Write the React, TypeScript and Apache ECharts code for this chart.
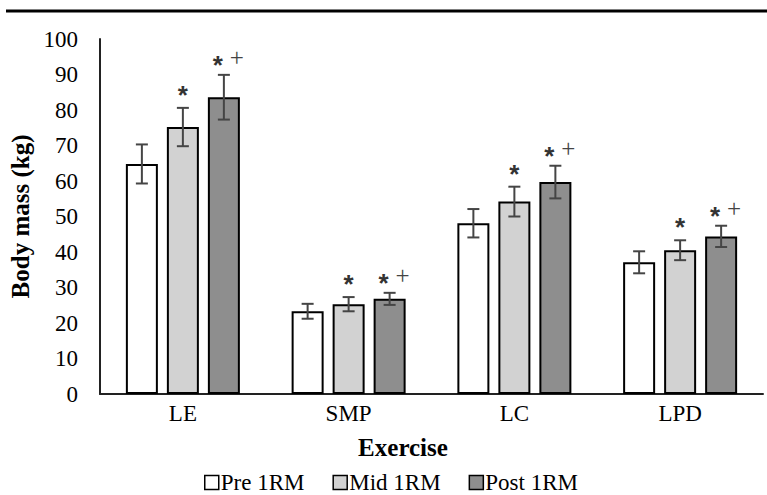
import React, { useEffect, useRef } from 'react';
import * as echarts from 'echarts';

const categories = ['LE', 'SMP', 'LC', 'LPD'];
const seriesNames = ['Pre 1RM', 'Mid 1RM', 'Post 1RM'];
const preValues = [64.8, 23.3, 48.1, 37.1];
const midValues = [75.2, 25.3, 54.2, 40.5];
const postValues = [83.6, 26.8, 59.7, 44.4];
const preErrors = [5.5, 2.1, 4.0, 3.1];
const midErrors = [5.4, 2.0, 4.2, 2.8];
const postErrors = [6.3, 1.7, 4.6, 3.0];
const preMarks = ['', '', '', ''];
const midMarks = ['*', '*', '*', '*'];
const postMarks = ['*+', '*+', '*+', '*+'];
const yMin = 0;
const yMax = 100;
const yInterval = 10;

const fills = ['#ffffff', '#d2d2d2', '#8e8e8e'];
const BAR_W = 32;
const BAR_GAP = 9;
const SERIF = '"Liberation Serif", "Times New Roman", serif';
const STAR_FONT = 'bold 26px "Liberation Sans", Arial, sans-serif';

export default function App() {
  const ref = useRef<HTMLDivElement>(null);
  useEffect(() => {
    if (!ref.current) return;
    const chart = echarts.init(ref.current, null, { renderer: 'svg' });
    const values = [preValues, midValues, postValues];
    const errors = [preErrors, midErrors, postErrors];
    const marks = [preMarks, midMarks, postMarks];

    const barSeries = seriesNames.map((name, s) => ({
      name,
      type: 'bar',
      data: values[s],
      barWidth: BAR_W,
      barGap: (BAR_GAP / BAR_W) * 100 + '%',
      itemStyle: { color: fills[s], borderColor: '#000', borderWidth: 2 },
      z: 2,
    }));

    const errSeries = seriesNames.map((name, s) => ({
      name: name + ' err',
      type: 'custom',
      z: 5,
      data: values[s].map((v, i) => [i, v, errors[s][i]]),
      renderItem: (params: any, api: any) => {
        const idx = api.value(0);
        const v = api.value(1);
        const e = api.value(2);
        const c = api.coord([idx, v]);
        const cx = c[0] + (s - 1) * (BAR_W + BAR_GAP);
        const yt = api.coord([idx, v + e])[1];
        const yb = api.coord([idx, v - e])[1];
        const stroke = { stroke: '#454545', lineWidth: 2 };
        const children: any[] = [
          { type: 'line', shape: { x1: cx, y1: yt, x2: cx, y2: yb }, style: stroke },
          { type: 'line', shape: { x1: cx - 6, y1: yt, x2: cx + 6, y2: yt }, style: stroke },
          { type: 'line', shape: { x1: cx - 6, y1: yb, x2: cx + 6, y2: yb }, style: stroke },
        ];
        const m = marks[s][params.dataIndex];
        if (m === '*') {
          children.push({
            type: 'text',
            x: cx,
            y: yt - 13,
            style: { text: '*', font: STAR_FONT, fill: '#333', align: 'center', verticalAlign: 'middle' },
          });
        } else if (m === '*+') {
          children.push({
            type: 'text',
            x: cx - 6,
            y: yt - 10,
            style: { text: '*', font: STAR_FONT, fill: '#333', align: 'center', verticalAlign: 'middle' },
          });
          children.push({
            type: 'text',
            x: cx + 13,
            y: yt - 17,
            style: { text: '+', font: '25px ' + SERIF, fill: '#444', align: 'center', verticalAlign: 'middle' },
          });
        }
        return { type: 'group', children };
      },
    }));

    chart.setOption({
      animation: false,
      backgroundColor: '#fff',
      grid: { left: 100, right: 4, top: 39, bottom: 101, containLabel: false, outerBoundsMode: 'none' },
      legend: {
        data: seriesNames,
        left: 199,
        top: 466,
        icon: 'rect',
        itemWidth: 14,
        itemHeight: 14,
        itemGap: 28,
        itemStyle: { borderColor: '#000', borderWidth: 1.5 },
        textStyle: { fontFamily: SERIF, fontSize: 23, color: '#000', padding: [0, 0, 0, -3] },
      },
      xAxis: {
        type: 'category',
        data: categories,
        axisLine: { lineStyle: { color: '#222', width: 2 } },
        axisTick: { show: false },
        axisLabel: { fontFamily: SERIF, fontSize: 23, color: '#000', margin: 8 },
      },
      yAxis: {
        type: 'value',
        min: yMin,
        max: yMax,
        interval: yInterval,
        name: 'Body mass (kg)',
        nameLocation: 'middle',
        nameGap: 65,
        nameTextStyle: { fontFamily: SERIF, fontSize: 25, fontWeight: 'bold', color: '#000' },
        axisLine: { show: true, lineStyle: { color: '#222', width: 2 } },
        axisTick: { show: false },
        splitLine: { show: false },
        axisLabel: { fontFamily: SERIF, fontSize: 23, color: '#000', margin: 22 },
      },
      graphic: [
        { type: 'line', shape: { x1: 6, y1: 11, x2: 767, y2: 11 }, style: { stroke: '#000', lineWidth: 3 } },
        {
          type: 'text',
          x: 403,
          y: 447,
          style: { text: 'Exercise', font: 'bold 25px ' + SERIF, fill: '#000', align: 'center', verticalAlign: 'middle' },
        },
      ],
      series: [...barSeries, ...errSeries],
    });
    return () => chart.dispose();
  }, []);
  return <div ref={ref} style={{ position: 'absolute', left: 0, top: 0, width: 767, height: 495 }} />;
}
